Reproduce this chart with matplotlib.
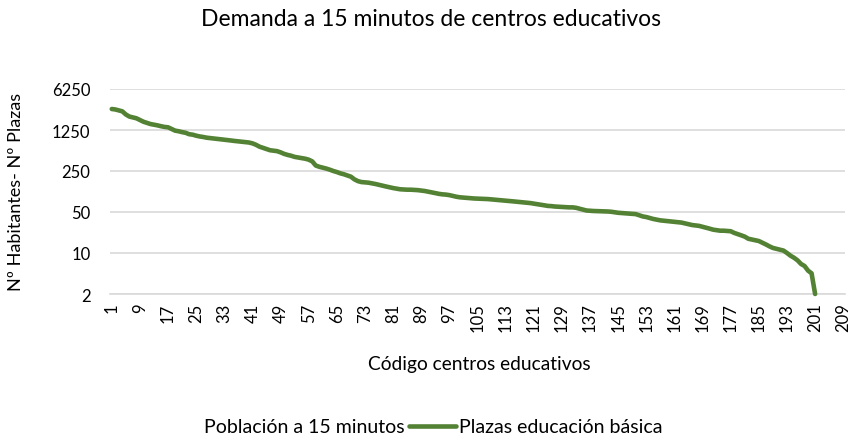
import matplotlib
matplotlib.use("Agg")
import matplotlib.pyplot as plt
from matplotlib.ticker import FixedLocator, NullLocator
from matplotlib.lines import Line2D

plt.rcParams['font.family'] = ['Lato', 'DejaVu Sans']

title = "Demanda a 15 minutos de centros educativos"
x_title = "Código centros educativos"
y_title = "Nº Habitantes- Nº Plazas"
series_names = ["Población a 15 minutos", "Plazas educación básica"]

n_categories = 209
x_ticks = list(range(1, 210, 8))
y_ticks = [2, 10, 50, 250, 1250, 6250]

plazas = [
    2850, 2800, 2700, 2600, 2300, 2120, 2050, 1980, 1850, 1730,
    1650, 1580, 1540, 1500, 1450, 1410, 1390, 1300, 1220, 1190,
    1150, 1120, 1060, 1040, 1000, 970, 950, 924, 910, 895,
    880, 868, 855, 840, 825, 812, 800, 790, 775, 765,
    740, 700, 650, 620, 590, 565, 555, 545, 520, 490,
    470, 455, 435, 425, 415, 405, 390, 365, 310, 295,
    285, 275, 263, 250, 240, 228, 220, 210, 200, 180,
    168, 162, 160, 158, 154, 150, 145, 140, 136, 132,
    128, 125, 122, 121, 120, 120, 119, 118, 116, 114,
    111, 108, 105, 102, 100, 99, 97, 94, 91, 89,
    88, 87, 86, 85, 84.5, 84, 83.5, 83, 82, 81,
    80, 79, 78, 77, 76, 75, 74, 73, 72, 71,
    69.5, 68, 66.5, 65, 63.5, 63, 62, 61.5, 61, 60.5,
    60, 60, 59, 57, 55, 53, 52.5, 52, 51.8, 51.5,
    51.2, 51, 50.5, 49.5, 48.5, 48, 47.5, 47, 46.5, 46,
    44, 42, 41, 39.5, 38, 37, 36, 35.5, 35, 34.5,
    34, 33.5, 33, 32, 31, 30, 29.5, 29, 28, 27,
    26, 25, 24.5, 24, 24, 23.8, 23.5, 22, 21, 20,
    19, 17.5, 17, 16.5, 16, 15, 14, 13, 12.2, 11.8,
    11.4, 11, 10, 9, 8.3, 7.5, 6.5, 6, 5, 4.5,
    2,
]
categories = list(range(1, len(plazas) + 1))

green = "#548235"
grid_c = "#d9d9d9"

fig = plt.figure(figsize=(8.54, 4.39), dpi=100)
ax = fig.add_axes([110 / 854, 144 / 439, 735 / 854, 205 / 439])

ax.set_yscale('log', base=5)
ax.set_ylim(2, 6250)
ax.set_xlim(0.5, n_categories + 0.5)

ax.plot(categories, plazas, color=green, linewidth=3.3, solid_capstyle='round',
        solid_joinstyle='round', clip_on=False, zorder=3)

ax.yaxis.set_major_locator(FixedLocator(y_ticks))
ax.yaxis.set_minor_locator(NullLocator())
ax.set_yticklabels([str(v) for v in y_ticks])
ax.set_xticks(x_ticks)
ax.set_xticklabels([str(v) for v in x_ticks], rotation=90)
ax.xaxis.set_minor_locator(NullLocator())

ax.grid(axis='y', color=grid_c, linewidth=1.2)
ax.set_axisbelow(True)
for s in ['top', 'right', 'left']:
    ax.spines[s].set_visible(False)
ax.spines['bottom'].set_color(grid_c)
ax.spines['bottom'].set_linewidth(1.2)
ax.tick_params(axis='both', length=0, labelsize=12, colors='black')
ax.tick_params(axis='y', pad=14)
ax.tick_params(axis='x', pad=6)

fig.text(431 / 854, 1 - 20 / 439, title, ha='center', va='center', fontsize=16.5, color='black')
fig.text(479 / 854, 1 - 365 / 439, x_title, ha='center', va='center', fontsize=13.8, color='black')
fig.text(16 / 854, 1 - 192 / 439, y_title, ha='center', va='center', rotation=90, fontsize=13, color='black')

handles = [Line2D([], [], color='none', linewidth=3.3),
           Line2D([], [], color=green, linewidth=3.3, solid_capstyle='round')]
fig.legend(handles, series_names, loc='center left', bbox_to_anchor=(136 / 854, 1 - 428 / 439),
           ncol=2, frameon=False, fontsize=14, handlelength=2.45, handletextpad=0.15,
           columnspacing=0.2)

fig.savefig("out.png", dpi=100)
